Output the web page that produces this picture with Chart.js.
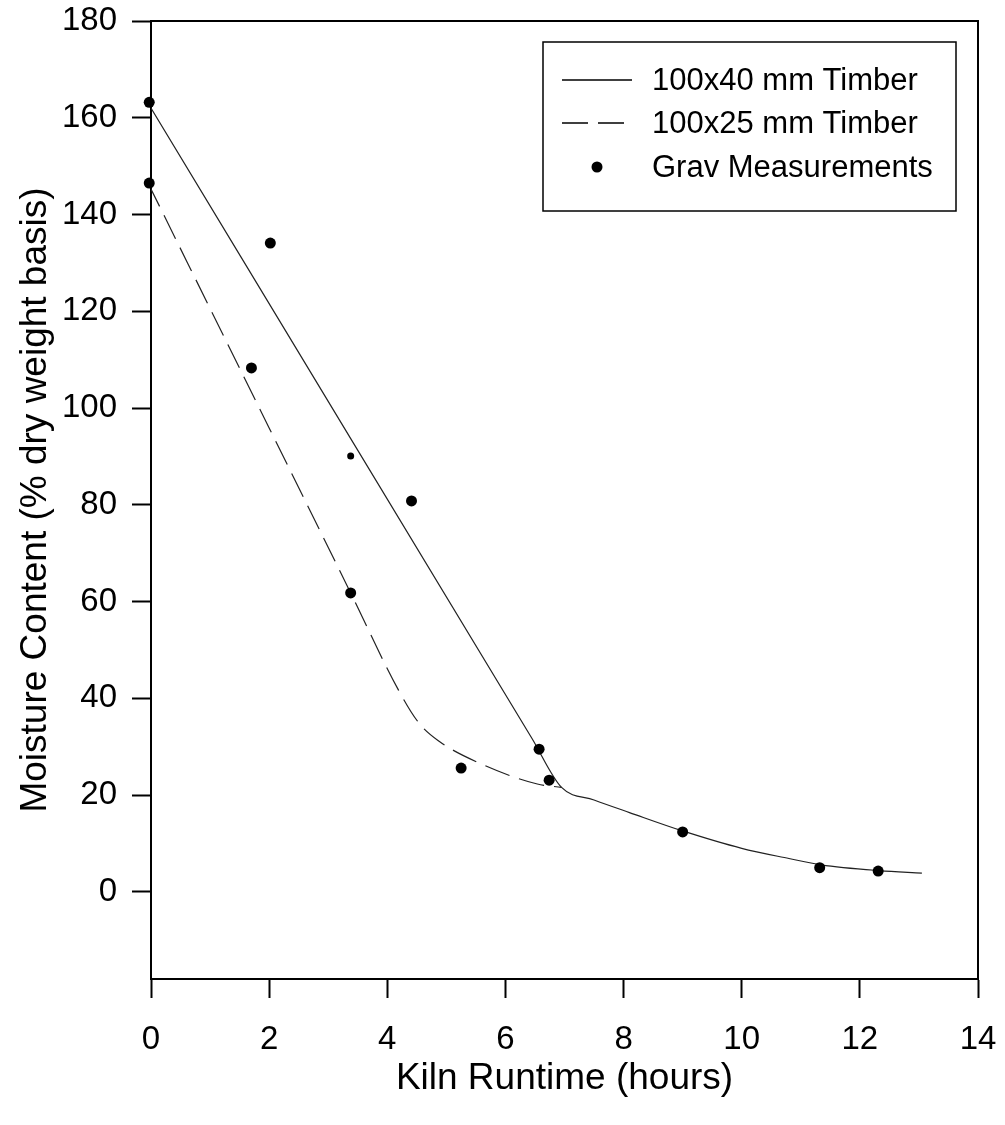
<!DOCTYPE html>
<html>
<head>
<meta charset="utf-8">
<script src="https://cdn.jsdelivr.net/npm/chart.js@4.4.0/dist/chart.umd.min.js"></script>
<style>
  html, body { margin: 0; padding: 0; background: #fff; }
  #wrap { width: 1005px; height: 1125px; }
</style>
</head>
<body>
<div id="wrap"><canvas id="myChart" width="1005" height="1125"></canvas></div>
<script>
// 100x40 mm timber (solid curve): straight fall, then the common drying tail
const solidX = [-0.05, 3.45, 6.45, 6.95, 7.5, 8.1, 9.0, 10.0, 10.8, 11.34, 12.33, 13.05];
const solidY = [163, 92.3, 31.7, 21.6, 19.0, 16.4, 12.6, 9.0, 6.9, 5.6, 4.4, 3.9];

// 100x25 mm timber (dashed curve)
const dashX = [-0.05, 2.0, 3.38, 4.19, 4.53, 4.87, 5.6, 6.54, 6.95];
const dashY = [146.5, 95.9, 61.8, 41.7, 35, 31.2, 26.4, 22.3, 21.6];

// gravimetric measurements
const gravX = [-0.03, -0.03, 2.02, 1.70, 3.38, 3.38, 4.41, 5.25, 6.57, 6.74, 9.0, 11.32, 12.31];
const gravY = [163.2, 146.5, 134.1, 108.3, 90.1, 61.8, 80.8, 25.6, 29.5, 23.1, 12.4, 5.0, 4.3];
const gravSize = [5.5, 5.5, 5.5, 5.5, 3.5, 5.5, 5.5, 5.5, 5.5, 5.5, 5.5, 5.5, 5.5];

const seriesNames = ['100x40 mm Timber', '100x25 mm Timber', 'Grav Measurements'];
const xTicks = [0, 2, 4, 6, 8, 10, 12, 14];
const yTicks = [0, 20, 40, 60, 80, 100, 120, 140, 160, 180];

const FONT = "'Liberation Sans', Arial, Helvetica, sans-serif";

function pts(xs, ys) {
  return xs.map((x, i) => ({x: x, y: ys[i]}));
}

// frame on top/right + legend box inside the plot
const framePlugin = {
  id: 'frame',
  afterDatasetsDraw(chart) {
    const ctx = chart.ctx;
    const a = chart.chartArea;
    ctx.save();
    ctx.strokeStyle = '#000';
    ctx.lineWidth = 2;
    ctx.beginPath();
    ctx.moveTo(a.left, a.top);
    ctx.lineTo(a.right, a.top);
    ctx.lineTo(a.right, a.bottom);
    ctx.stroke();

    // legend
    const bx = a.right - 435, by = a.top + 21, bw = 413, bh = 169;
    ctx.fillStyle = '#fff';
    ctx.fillRect(bx, by, bw, bh);
    ctx.lineWidth = 1.5;
    ctx.strokeRect(bx, by, bw, bh);
    ctx.font = '31px ' + FONT;
    ctx.textBaseline = 'middle';
    ctx.fillStyle = '#000';
    const rows = [by + 38, by + 81, by + 125];
    chart.data.datasets.forEach((ds, i) => {
      const y = rows[i];
      ctx.strokeStyle = '#000';
      ctx.lineWidth = 1.3;
      if (ds.showLine) {
        ctx.setLineDash(ds.borderDash || []);
        ctx.beginPath();
        ctx.moveTo(bx + 19, y);
        ctx.lineTo(bx + 89, y);
        ctx.stroke();
        ctx.setLineDash([]);
      } else {
        ctx.beginPath();
        ctx.arc(bx + 54, y, 5.5, 0, Math.PI * 2);
        ctx.fill();
      }
      ctx.fillText(ds.label, bx + 109, y + 1);
    });
    ctx.restore();
  }
};

const ctx = document.getElementById('myChart').getContext('2d');
const myChart = new Chart(ctx, {
  type: 'scatter',
  data: {
    datasets: [
      {
        label: seriesNames[0],
        data: pts(solidX, solidY),
        showLine: true,
        borderColor: '#222',
        borderWidth: 1.2,
        pointRadius: 0,
        cubicInterpolationMode: 'monotone',
        order: 2
      },
      {
        label: seriesNames[1],
        data: pts(dashX, dashY),
        showLine: true,
        borderColor: '#222',
        borderWidth: 1.2,
        borderDash: [26, 10],
        pointRadius: 0,
        cubicInterpolationMode: 'monotone',
        order: 1
      },
      {
        label: seriesNames[2],
        data: pts(gravX, gravY),
        showLine: false,
        pointRadius: gravSize,
        backgroundColor: '#000',
        borderColor: '#000',
        borderWidth: 0,
        clip: false,
        order: 0
      }
    ]
  },
  options: {
    responsive: false,
    animation: false,
    layout: { padding: { top: 21, right: 27, left: 0, bottom: 0 } },
    plugins: {
      legend: { display: false },
      tooltip: { enabled: false }
    },
    scales: {
      x: {
        type: 'linear',
        min: 0,
        max: 14,
        afterFit: (scale) => {
          scale.height = 146;
          scale.paddingLeft = 0;
          scale.paddingRight = 0;
        },
        afterBuildTicks: (scale) => { scale.ticks = xTicks.map(v => ({value: v})); },
        border: { display: true, color: '#000', width: 2 },
        grid: { drawOnChartArea: false, drawTicks: true, tickLength: 19, tickWidth: 2, tickColor: '#000' },
        ticks: { color: '#000', font: { family: FONT, size: 33 }, padding: 22, maxRotation: 0 },
        title: {
          display: true,
          text: 'Kiln Runtime (hours)',
          color: '#000',
          font: { family: FONT, size: 37 },
          padding: { top: 0, bottom: 24 }
        }
      },
      y: {
        type: 'linear',
        min: -18,
        max: 180,
        afterFit: (scale) => {
          scale.width = 151;
          scale.paddingTop = 0;
          scale.paddingBottom = 0;
        },
        afterBuildTicks: (scale) => { scale.ticks = yTicks.map(v => ({value: v})); },
        border: { display: true, color: '#000', width: 2 },
        grid: { drawOnChartArea: false, drawTicks: true, tickLength: 19, tickWidth: 2, tickColor: '#000' },
        ticks: { color: '#000', font: { family: FONT, size: 33 }, padding: 15 },
        title: {
          display: true,
          text: 'Moisture Content (% dry weight basis)',
          color: '#000',
          font: { family: FONT, size: 37 },
          padding: { top: 14, bottom: 0 }
        }
      }
    }
  },
  plugins: [framePlugin]
});
</script>
</body>
</html>
